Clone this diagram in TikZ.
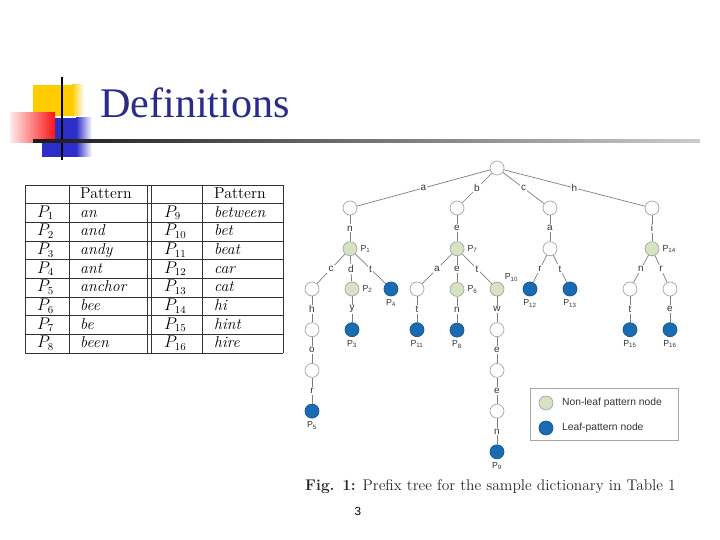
\documentclass[tikz,border=0pt]{standalone}
\usepackage{fontspec}
\usepackage{tikz}
\usetikzlibrary{positioning}
\newfontfamily\titlefont{Liberation Serif}
\newfontfamily\treefont{Liberation Sans}
\definecolor{titleblue}{RGB}{43,43,140}
\definecolor{leafblue}{RGB}{25,108,178}
\definecolor{nonleaf}{RGB}{214,226,194}
\definecolor{edgegray}{RGB}{125,125,125}
\definecolor{decoyellow}{RGB}{255,204,0}
\definecolor{decoblue}{RGB}{45,45,200}
\definecolor{decored}{RGB}{250,20,20}

\begin{document}
\begin{tikzpicture}[x=0.03cm,y=-0.03cm,node distance=0.78cm,
  every edge/.style={draw,edgegray,line width=0.6pt},
  tn/.style={circle,draw=gray!70,line width=0.6pt,fill=white,minimum size=0.42cm,inner sep=0pt},
  nl/.style={tn,fill=nonleaf},
  lf/.style={tn,fill=leafblue,draw=leafblue!80!black},
  lbl/.style={fill=white,inner sep=1pt,text=black!80,font=\treefont\fontsize{8.5}{8.5}\selectfont},
  pl/.style={inner sep=1pt,label distance=1.5pt,text=black!80,font=\treefont\fontsize{7.5}{7.5}\selectfont},
  tcell/.style={anchor=base west,inner sep=0pt,font=\fontsize{13.5}{14}\selectfont},
  lgd/.style={inner sep=1pt,text=black!80,font=\treefont\fontsize{8.8}{8.8}\selectfont}]
\useasboundingbox (0,0) rectangle (720,540);

% title decoration
\fill[decoyellow] (33,85) rectangle (72,116);
\shade[left color=decoyellow,right color=white] (72,85) rectangle (84,116);
\fill[decoblue] (42,118) rectangle (76,157);
\shade[left color=decoblue,right color=white] (76,118) rectangle (92,157);
\shade[left color=red!8,right color=decored] (10,113) rectangle (55,143);
\draw[line width=2pt] (62,77) -- (62,160);
\shade[left color=black!90,right color=black!20] (33,139.5) rectangle (700,142.5);
\node[anchor=base west,inner sep=0pt,text=titleblue,font=\titlefont\fontsize{36}{36}\selectfont] (title) at (100,118) {Definitions};

% table
\foreach \k in {0,...,9}
  \draw[line width=0.5pt,black!80] (25,{185+18.67*\k}) -- (283,{185+18.67*\k});
\foreach \x in {25,69,147,151,202,283}
  \draw[line width=0.5pt,black!80] (\x,185) -- (\x,353);
\node[tcell] (hdl) at (80,198.5) {Pattern};
\node[tcell] (hdr) at (214,198.5) {Pattern};
\foreach \i/\w/\j/\v [count=\k] in {1/an/9/between,2/and/10/bet,3/andy/11/beat,4/ant/12/car,
    5/anchor/13/cat,6/bee/14/hi,7/be/15/hint,8/been/16/hire} {
  \node[tcell] (pl\k) at (37,{198.5+18.67*\k}) {$P_{\i}$};
  \node[tcell] (wl\k) at (80,{198.5+18.67*\k}) {\textit{\w}};
  \node[tcell] (pr\k) at (164,{198.5+18.67*\k}) {$P_{\j}$};
  \node[tcell] (wr\k) at (214,{198.5+18.67*\k}) {\textit{\v}};
}

% prefix tree
\node[tn] (root) at (497,168) {};
\node[tn] (na) at (350,208) {};
\node[tn] (nb) at (457,208) {};
\node[tn] (nc) at (550,208) {};
\node[tn] (nh) at (652,208) {};
\node[nl,below=of na,label={[pl]right:P\textsubscript{1}}] (p1) {};
\node[nl,below=of nb,label={[pl]right:P\textsubscript{7}}] (p7) {};
\node[tn,below=of nc] (nca) {};
\node[nl,below=of nh,label={[pl]right:P\textsubscript{14}}] (p14) {};
\node[tn] (nanc) at (312,289) {};
\node[nl,label={[pl]right:P\textsubscript{2}}] (p2) at (352,289) {};
\node[lf,label={[pl]below:P\textsubscript{4}}] (p4) at (391,289) {};
\node[tn] (nbea) at (417,289) {};
\node[nl,below=of p7,label={[pl]right:P\textsubscript{6}}] (p6) {};
\node[nl,label={[pl]above right:P\textsubscript{10}}] (p10) at (497,289) {};
\node[lf,label={[pl]below:P\textsubscript{12}}] (p12) at (530,289) {};
\node[lf,label={[pl]below:P\textsubscript{13}}] (p13) at (570,289) {};
\node[tn] (nhin) at (630,289) {};
\node[tn] (nhir) at (670,289) {};
\node[tn,below=of nanc] (nanch) {};
\node[lf,below=of p2,label={[pl]below:P\textsubscript{3}}] (p3) {};
\node[lf,below=of nbea,label={[pl]below:P\textsubscript{11}}] (p11) {};
\node[lf,below=of p6,label={[pl]below:P\textsubscript{8}}] (p8) {};
\node[tn,below=of p10] (nbetw) {};
\node[lf,below=of nhin,label={[pl]below:P\textsubscript{15}}] (p15) {};
\node[lf,below=of nhir,label={[pl]below:P\textsubscript{16}}] (p16) {};
\node[tn,below=of nanch] (nancho) {};
\node[lf,below=of nancho,label={[pl]below:P\textsubscript{5}}] (p5) {};
\node[tn,below=of nbetw] (nbetwe) {};
\node[tn,below=of nbetwe] (nbetwee) {};
\node[lf,below=of nbetwee,label={[pl]below:P\textsubscript{9}}] (p9) {};

\draw (root) edge node[lbl]{a} (na) edge node[lbl]{b} (nb)
  edge node[lbl]{c} (nc) edge node[lbl]{h} (nh);
\draw (na) edge node[lbl]{n} (p1);
\draw (nb) edge node[lbl]{e} (p7);
\draw (nc) edge node[lbl]{a} (nca);
\draw (nh) edge node[lbl]{i} (p14);
\draw (p1) edge node[lbl]{c} (nanc) edge node[lbl]{d} (p2) edge node[lbl]{t} (p4);
\draw (p7) edge node[lbl]{a} (nbea) edge node[lbl]{e} (p6) edge node[lbl]{t} (p10);
\draw (nca) edge node[lbl]{r} (p12) edge node[lbl]{t} (p13);
\draw (p14) edge node[lbl]{n} (nhin) edge node[lbl]{r} (nhir);
\draw (nanc) edge node[lbl]{h} (nanch);
\draw (nanch) edge node[lbl]{o} (nancho);
\draw (nancho) edge node[lbl]{r} (p5);
\draw (p2) edge node[lbl]{y} (p3);
\draw (nbea) edge node[lbl]{t} (p11);
\draw (p6) edge node[lbl]{n} (p8);
\draw (p10) edge node[lbl]{w} (nbetw);
\draw (nbetw) edge node[lbl]{e} (nbetwe);
\draw (nbetwe) edge node[lbl]{e} (nbetwee);
\draw (nbetwee) edge node[lbl]{n} (p9);
\draw (nhin) edge node[lbl]{t} (p15);
\draw (nhir) edge node[lbl]{e} (p16);

% legend
\draw[gray!70,line width=0.6pt] (530,388) rectangle (678,440);
\node[nl] (keynl) at (546,403) {};
\node[lf] (keylf) at (546,428) {};
\node[lgd,right=0.22cm of keynl] (txtnl) {Non-leaf pattern node};
\node[lgd,right=0.22cm of keylf] (txtlf) {Leaf-pattern node};

% caption and page number
\node[anchor=base west,inner sep=0pt,text=black!85,font=\fontsize{13.2}{15}\selectfont] (cap) at (305,490)
  {\textbf{Fig. 1:} Prefix tree for the sample dictionary in Table 1};
\node[font=\treefont\fontsize{10}{10}\selectfont] (pgno) at (358,511) {3};
\end{tikzpicture}
\end{document}
